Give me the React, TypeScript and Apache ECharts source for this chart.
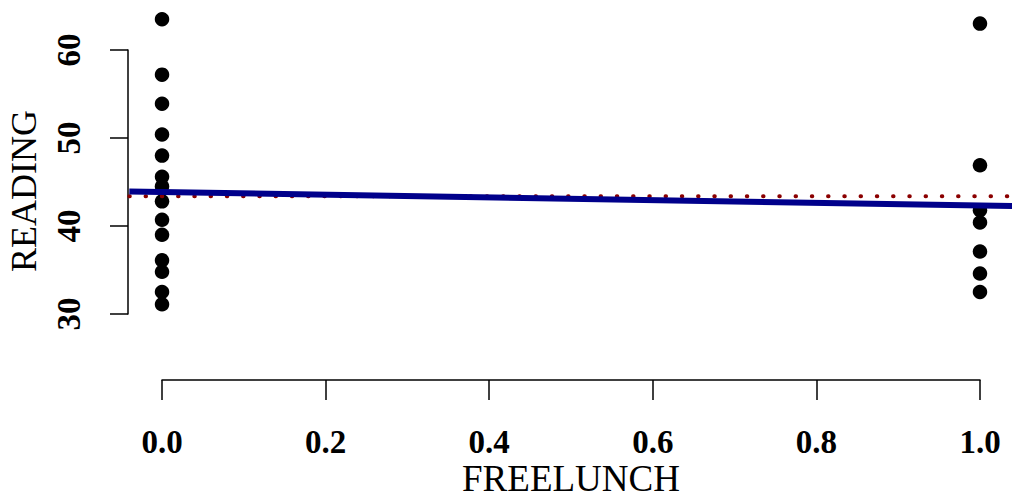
import React, { useEffect, useRef } from "react";
import * as echarts from "echarts";

// READING scores grouped by FREELUNCH status (0 = no, 1 = yes)
const lunchGroups = [0, 1];
const readingNoLunch = [63.5, 57.2, 53.9, 50.4, 48.0, 45.6, 44.5, 42.8, 40.7, 39.0, 36.1, 34.8, 32.5, 31.1];
const readingLunch = [63.0, 46.9, 41.8, 40.4, 37.1, 34.6, 32.5];

// Fitted regression line READING ~ FREELUNCH and the overall mean
const fitIntercept = 43.86;
const fitSlope = -1.53;
const readingMean = 43.38;

// Axis ticks
const yTicks = [30, 40, 50, 60];
const xTickStep = 0.2;

// Plot region spans the data range padded by 4% on each side
const xPad = 0.04;

const serif = "'Liberation Serif', 'Times New Roman', serif";

export default function App() {
  const ref = useRef<HTMLDivElement>(null);

  useEffect(() => {
    if (!ref.current) return;
    const chart = echarts.init(ref.current, null, { renderer: "svg" });

    const points: number[][] = [];
    readingNoLunch.forEach((v) => points.push([lunchGroups[0], v]));
    readingLunch.forEach((v) => points.push([lunchGroups[1], v]));

    const xLo = lunchGroups[0] - xPad;
    const xHi = lunchGroups[1] + xPad;
    const fitLine = [
      [xLo, fitIntercept + fitSlope * xLo],
      [xHi, fitIntercept + fitSlope * xHi],
    ];
    const meanLine = [
      [xLo, readingMean],
      [xHi, readingMean],
    ];

    const axisLine = { show: true, lineStyle: { color: "#000", width: 1.5 } };
    const fixedGrid = { containLabel: false, outerBoundsMode: "none" };

    chart.setOption({
      animation: false,
      backgroundColor: "#fff",
      grid: [
        // data region
        { ...fixedGrid, left: 129.3, top: 6, width: 883.4, height: 352 },
        // y axis frame (30..60)
        { ...fixedGrid, left: 128, top: 50, width: 100, height: 264 },
        // x axis frame (0..1), drawn below the data
        { ...fixedGrid, left: 162, top: 330, width: 818, height: 50 },
      ],
      graphic: [
        {
          type: "text",
          x: 24,
          y: 191,
          rotation: Math.PI / 2,
          style: {
            text: "READING",
            fill: "#000",
            font: `36px ${serif}`,
            align: "center",
            verticalAlign: "middle",
          },
        },
      ],
      xAxis: [
        { gridIndex: 0, type: "value", min: xLo, max: xHi, show: false },
        { gridIndex: 1, type: "value", show: false },
        {
          gridIndex: 2,
          type: "value",
          min: 0,
          max: 1,
          interval: xTickStep,
          position: "bottom",
          axisLine,
          axisTick: { show: true, length: 20, lineStyle: { color: "#000", width: 1.5 } },
          splitLine: { show: false },
          axisLabel: {
            margin: 45,
            color: "#000",
            fontFamily: serif,
            fontWeight: "bold",
            fontSize: 33,
            formatter: (v: number) => v.toFixed(1),
          },
          name: "FREELUNCH",
          nameLocation: "middle",
          nameGap: 80,
          nameTextStyle: { color: "#000", fontFamily: serif, fontSize: 37 },
        },
      ],
      yAxis: [
        { gridIndex: 0, type: "value", min: 25, max: 65, show: false },
        {
          gridIndex: 1,
          type: "value",
          min: yTicks[0],
          max: yTicks[yTicks.length - 1],
          interval: yTicks[1] - yTicks[0],
          position: "left",
          axisLine,
          axisTick: { show: true, length: 18, lineStyle: { color: "#000", width: 1.5 } },
          splitLine: { show: false },
          axisLabel: {
            margin: 43,
            rotate: 90,
            color: "#000",
            fontFamily: serif,
            fontWeight: "bold",
            fontSize: 33,
          },
        },
        { gridIndex: 2, type: "value", show: false },
      ],
      series: [
        {
          type: "scatter",
          xAxisIndex: 0,
          yAxisIndex: 0,
          data: points,
          symbol: "circle",
          symbolSize: 14.5,
          itemStyle: { color: "#000", opacity: 1 },
          clip: false,
          z: 2,
        },
        {
          type: "line",
          xAxisIndex: 0,
          yAxisIndex: 0,
          data: meanLine,
          symbol: "none",
          lineStyle: { color: "#8B0000", width: 4, type: [0.5, 15.75], cap: "round" },
          z: 3,
        },
        {
          type: "line",
          xAxisIndex: 0,
          yAxisIndex: 0,
          data: fitLine,
          symbol: "none",
          lineStyle: { color: "#00008B", width: 6 },
          z: 4,
        },
      ],
    });

    return () => chart.dispose();
  }, []);

  return (
    <div
      ref={ref}
      style={{ position: "fixed", left: 0, top: 0, width: 1012, height: 499 }}
    />
  );
}
